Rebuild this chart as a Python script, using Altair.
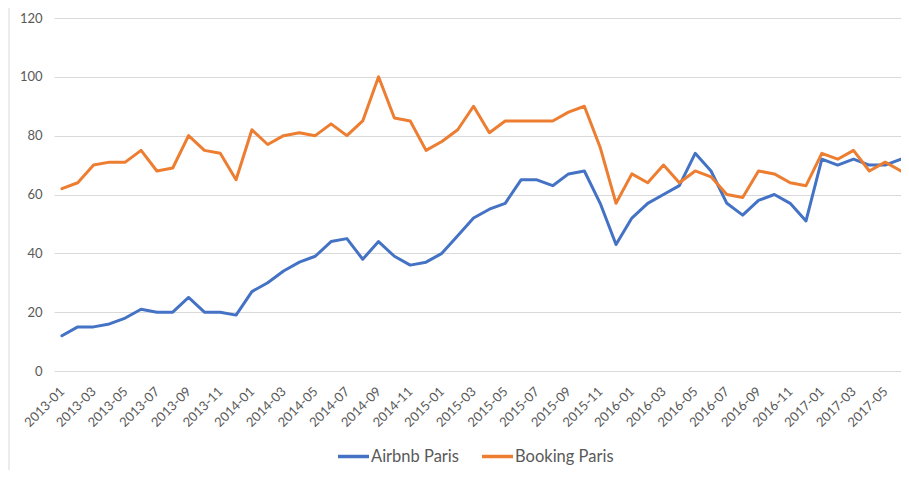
import altair as alt
import pandas as pd

months = [
    "2013-01", "2013-02", "2013-03", "2013-04", "2013-05", "2013-06",
    "2013-07", "2013-08", "2013-09", "2013-10", "2013-11", "2013-12",
    "2014-01", "2014-02", "2014-03", "2014-04", "2014-05", "2014-06",
    "2014-07", "2014-08", "2014-09", "2014-10", "2014-11", "2014-12",
    "2015-01", "2015-02", "2015-03", "2015-04", "2015-05", "2015-06",
    "2015-07", "2015-08", "2015-09", "2015-10", "2015-11", "2015-12",
    "2016-01", "2016-02", "2016-03", "2016-04", "2016-05", "2016-06",
    "2016-07", "2016-08", "2016-09", "2016-10", "2016-11", "2016-12",
    "2017-01", "2017-02", "2017-03", "2017-04", "2017-05", "2017-06",
]
airbnb = [
    12, 15, 15, 16, 18, 21, 20, 20, 25, 20, 20, 19,
    27, 30, 34, 37, 39, 44, 45, 38, 44, 39, 36, 37,
    40, 46, 52, 55, 57, 65, 65, 63, 67, 68, 57, 43,
    52, 57, 60, 63, 74, 68, 57, 53, 58, 60, 57, 51,
    72, 70, 72, 70, 70, 72,
]
booking = [
    62, 64, 70, 71, 71, 75, 68, 69, 80, 75, 74, 65,
    82, 77, 80, 81, 80, 84, 80, 85, 100, 86, 85, 75,
    78, 82, 90, 81, 85, 85, 85, 85, 88, 90, 76, 57,
    67, 64, 70, 64, 68, 66, 60, 59, 68, 67, 64, 63,
    74, 72, 75, 68, 71, 68,
]
series_names = ["Airbnb Paris", "Booking Paris"]
series_colors = ["#4472C4", "#ED7D31"]
tick_months = months[::2]
y_ticks = [0, 20, 40, 60, 80, 100, 120]

df = pd.DataFrame({
    "month": months + months,
    "value": airbnb + booking,
    "series": [series_names[0]] * len(months) + [series_names[1]] * len(months),
})

FONT = "Lato"
GRAY = "#595959"

lines = alt.Chart(df).mark_line(strokeWidth=3, strokeJoin="round", strokeCap="round").encode(
    x=alt.X(
        "month:O",
        sort=months,
        scale=alt.Scale(type="point", padding=0.25, align=1),
        axis=alt.Axis(
            values=tick_months, labelAngle=-45, title=None, grid=False,
            ticks=False, domain=False, labelPadding=18, labelFont=FONT,
            labelFontSize=13, labelColor=GRAY, labelAlign="right",
            labelBaseline="middle",
        ),
    ),
    y=alt.Y(
        "value:Q",
        scale=alt.Scale(domain=[0, 120], nice=False),
        axis=alt.Axis(
            values=y_ticks, title=None, grid=True, gridColor="#d9d9d9",
            gridWidth=1, ticks=False, domain=False, labelPadding=12,
            labelFont=FONT, labelFontSize=13, labelColor=GRAY,
        ),
    ),
    color=alt.Color(
        "series:N",
        scale=alt.Scale(domain=series_names, range=series_colors),
        legend=alt.Legend(
            title=None, orient="none", legendX=282, legendY=421,
            direction="horizontal", symbolType="stroke", symbolSize=961,
            symbolStrokeWidth=3.5, labelFont=FONT, labelFontSize=16.5,
            labelColor=GRAY, labelOffset=0, columnPadding=16,
        ),
    ),
    detail="series:N",
)

border = alt.Chart(pd.DataFrame({"v": [0]})).mark_rule(color="#d9d9d9", strokeWidth=1).encode(
    x=alt.value(-45), y=alt.value(-12), y2=alt.value(460)
)

chart = alt.layer(border, lines).properties(
    width=847,
    height=353,
    autosize=alt.AutoSizeParams(type="none"),
    padding={"left": 46, "top": 10, "right": 0, "bottom": 99},
).configure_view(stroke=None)

chart.save("out.html", embed_options={"renderer": "svg", "actions": False})
